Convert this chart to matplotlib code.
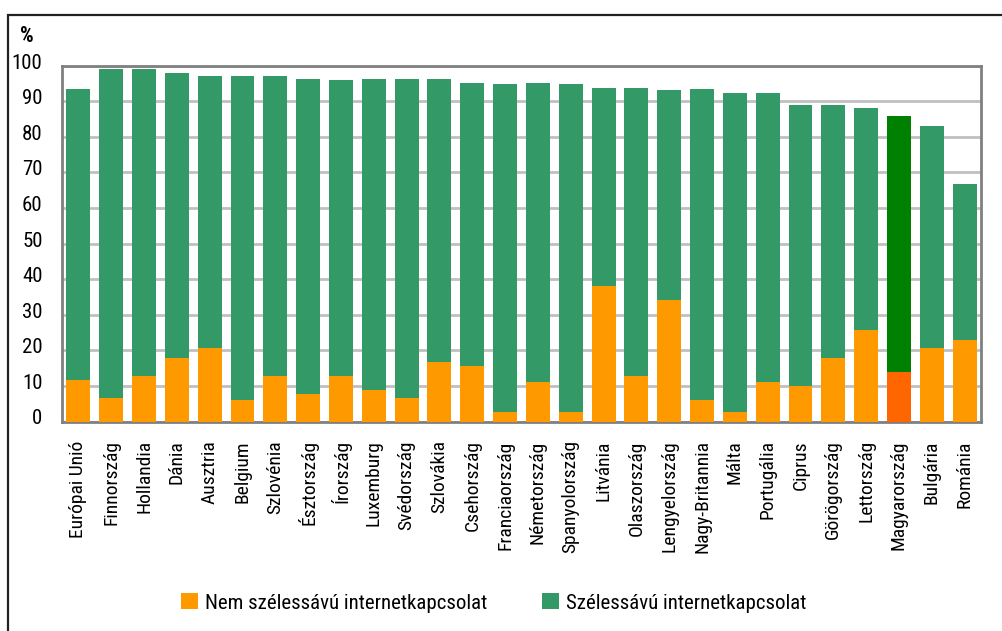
import matplotlib
matplotlib.use("Agg")
import matplotlib.pyplot as plt
import matplotlib.transforms as mtransforms
from matplotlib.patches import Rectangle, Patch

# Data: household internet connection types, percent
countries = [
    "Európai Unió", "Finnország", "Hollandia", "Dánia", "Ausztria", "Belgium",
    "Szlovénia", "Észtország", "Írország", "Luxemburg", "Svédország", "Szlovákia",
    "Csehország", "Franciaország", "Németország", "Spanyolország", "Litvánia",
    "Olaszország", "Lengyelország", "Nagy-Britannia", "Málta", "Portugália",
    "Ciprus", "Görögország", "Lettország", "Magyarország", "Bulgária", "Románia",
]
non_broadband = [11.7, 6.6, 12.8, 17.8, 20.7, 6.0, 12.8, 7.7, 12.8, 8.9, 6.6, 16.7,
                 15.6, 2.7, 11.1, 2.7, 38.1, 12.8, 34.1, 6.0, 2.7, 11.1,
                 10.0, 17.8, 25.7, 13.9, 20.7, 22.9]
broadband = [81.7, 92.5, 86.3, 80.1, 76.4, 91.1, 84.3, 88.6, 83.2, 87.4, 89.7, 79.6,
             79.5, 92.2, 84.0, 92.2, 55.6, 80.9, 59.1, 87.4, 89.6, 81.2,
             78.9, 71.1, 62.4, 71.9, 62.3, 43.9]
highlight = "Magyarország"
series_labels = ["Nem szélessávú internetkapcsolat", "Szélessávú internetkapcsolat"]
y_ticks = list(range(0, 101, 10))

ORANGE, GREEN = "#FF9900", "#339966"
ORANGE_HL, GREEN_HL = "#FF6600", "#008000"

plt.rcParams["font.family"] = ["Roboto Condensed", "Archivo Narrow", "Liberation Sans", "DejaVu Sans"]

W, H, DPI = 1003, 631, 100
fig = plt.figure(figsize=(W / DPI, H / DPI), dpi=DPI)

# axes placement in pixels: left 62, right 981, top 65.7, bottom 421.5
ax = fig.add_axes([62 / W, 1 - 421.5 / H, (981 - 62) / W, (421.5 - 65.7) / H])

x = list(range(len(countries)))
c_low = [ORANGE_HL if c == highlight else ORANGE for c in countries]
c_high = [GREEN_HL if c == highlight else GREEN for c in countries]
ax.bar(x, non_broadband, width=0.73, color=c_low, zorder=3)
ax.bar(x, broadband, width=0.73, bottom=non_broadband, color=c_high, zorder=3)

ax.set_xlim(-0.5, len(countries) - 0.5)
ax.set_ylim(0, 100)
ax.set_yticks(y_ticks)
ax.set_yticklabels([str(t) for t in y_ticks])
ax.yaxis.grid(True, color="#C0C0C0", linewidth=2.0, zorder=0)
ax.set_axisbelow(True)
ax.tick_params(axis="y", length=0, pad=14, labelsize=15, colors="#000000")
# value labels sit slightly above their gridlines
lift = mtransforms.ScaledTranslation(0, 4.5 / DPI, fig.dpi_scale_trans)
for lbl in ax.get_yticklabels():
    lbl.set_transform(lbl.get_transform() + lift)

ax.set_xticks(x)
ax.set_xticklabels(countries, rotation=90, ha="center", va="top")
ax.tick_params(axis="x", length=0, pad=13.5, labelsize=14)
for s in ax.spines.values():
    s.set_color("#808080")
    s.set_linewidth(2.0)

fig.text(20 / W, 1 - 36 / H, "%", fontsize=15.5, fontweight="bold", va="center", ha="left")

handles = [Patch(facecolor=ORANGE, edgecolor="none"), Patch(facecolor=GREEN, edgecolor="none")]
fig.legend(handles, series_labels, loc="center left", ncol=2,
           bbox_to_anchor=(181 / W, 1 - 603 / H), frameon=False, fontsize=15,
           handlelength=0.8, handleheight=0.8, handletextpad=0.35,
           columnspacing=2.65, borderpad=0, borderaxespad=0)

# outer frame (top and left edges visible)
fig.patches.append(Rectangle((8 / W, -0.1), 1.2, 1 - 15 / H + 0.1, transform=fig.transFigure,
                             fill=False, edgecolor="#222222", linewidth=1.6))

fig.savefig("out.png", dpi=DPI)
